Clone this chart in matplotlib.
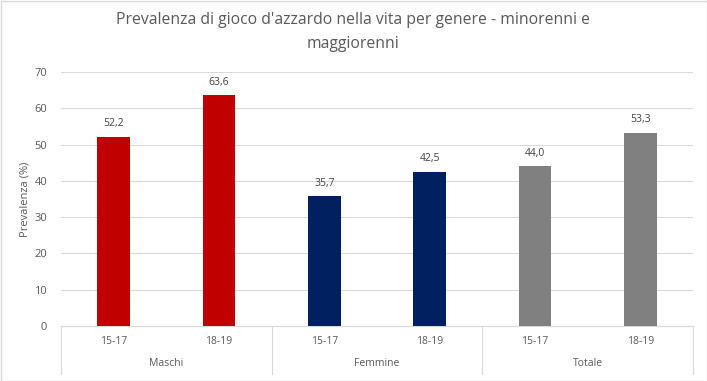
import matplotlib
matplotlib.use("Agg")
import matplotlib.pyplot as plt
from matplotlib.transforms import blended_transform_factory

groups = ["Maschi", "Femmine", "Totale"]
ages = ["15-17", "18-19"]
values = [52.2, 63.6, 35.7, 42.5, 44.0, 53.3]
colors = ["#C00000", "#C00000", "#002060", "#002060", "#808080", "#808080"]
title = "Prevalenza di gioco d'azzardo nella vita per genere - minorenni e\nmaggiorenni"
ylabel = "Prevalenza (%)"
yticks = [0, 10, 20, 30, 40, 50, 60, 70]

plt.rcParams['font.family'] = ['Open Sans', 'DejaVu Sans']
txt = "#595959"

fig = plt.figure(figsize=(7.07, 3.81), dpi=100)
fig.patch.set_facecolor("white")
ax = fig.add_axes([61/707, 1 - 326/381, 632/707, (326 - 72)/381])

x = list(range(len(values)))
ax.bar(x, values, width=0.31, color=colors, zorder=3)
for xi, v in zip(x, values):
    ax.text(xi, v + 3.6, f"{v:.1f}".replace(".", ","), ha="center", va="center",
            fontsize=7.5, color="#404040")

ax.set_xlim(-0.5, len(values) - 0.5)
ax.set_ylim(0, 70)
ax.set_yticks(yticks)
ax.set_yticklabels([str(t) for t in yticks], fontsize=8, color=txt)
ax.tick_params(axis="y", length=0, pad=10)
ax.tick_params(axis="x", length=0, labelbottom=False)
ax.grid(axis="y", color="#D9D9D9", linewidth=0.8, zorder=0)
for s in ["top", "right", "left"]:
    ax.spines[s].set_visible(False)
ax.spines["bottom"].set_color("#D9D9D9")
ax.set_ylabel(ylabel, fontsize=8, color=txt, labelpad=3)

trans = blended_transform_factory(ax.transData, ax.transAxes)
h = (326 - 72)
for xi, lab in zip(x, ages * len(groups)):
    ax.text(xi, -(342 - 326) / h, lab, transform=trans, ha="center", va="center",
            fontsize=7.5, color=txt)
for gi, g in enumerate(groups):
    ax.text(2 * gi + 0.5, -(364 - 326) / h, g, transform=trans, ha="center", va="center",
            fontsize=7.5, color=txt)
for b in [-0.5, 1.5, 3.5, 5.5]:
    ax.plot([b, b], [0, -(374 - 326) / h], transform=trans, color="#D9D9D9",
            linewidth=0.8, clip_on=False)

fig.text(0.5, 1 - 32/381, title, ha="center", va="center", fontsize=11.3,
         color=txt, linespacing=1.75)

fig.add_artist(plt.Rectangle((0.5/707, 0.5/381), 1 - 1/707, 1 - 1/381, transform=fig.transFigure,
                             fill=False, edgecolor="#D9D9D9", linewidth=1))
fig.savefig("out.png", dpi=100)
